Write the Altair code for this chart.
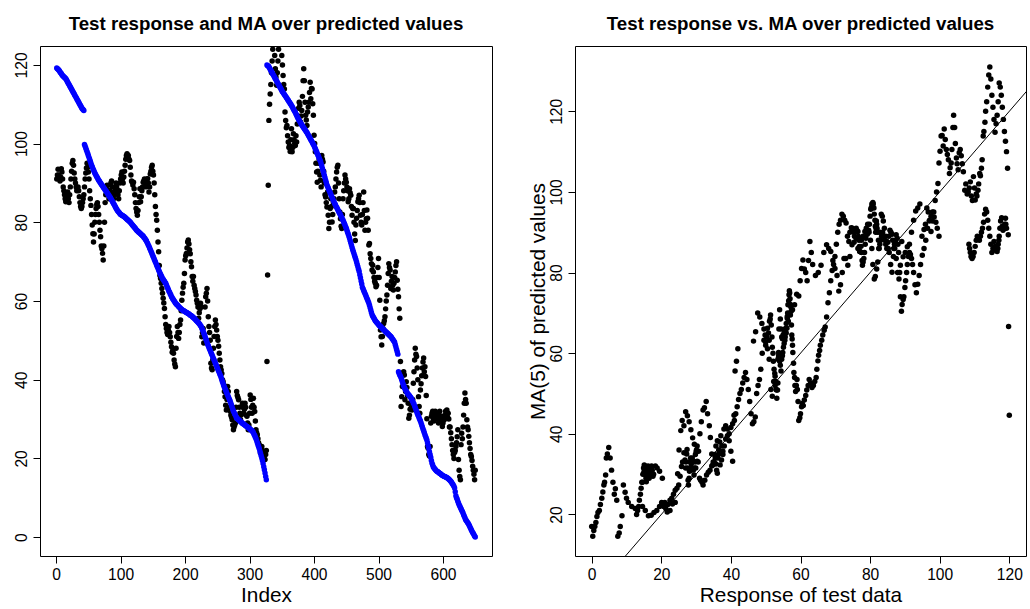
import altair as alt
import pandas as pd

# ---- test response (sorted within two blocks), read from the blue points ----
response_block1 = [
    119.2, 119.0, 118.9, 118.7, 118.5, 118.2, 118.0, 117.8, 117.5, 117.3,
    117.1, 117.0, 116.8, 116.7, 116.5, 116.2, 115.9, 115.6, 115.3, 115.0,
    114.7, 114.4, 114.1, 113.8, 113.5, 113.2, 112.9, 112.6, 112.3, 112.0,
    111.7, 111.4, 111.1, 110.8, 110.5, 110.2, 109.9, 109.6, 109.3, 109.0,
    108.8, 108.6, 108.4,
    99.8, 99.3, 98.9, 98.4, 97.9, 97.5, 97.0,
    96.5, 96.0, 95.5, 95.0, 94.5, 94.1, 93.7, 93.3, 92.9, 92.5,
    92.2, 91.9, 91.6, 91.3, 91.0, 90.7, 90.5, 90.2, 90.0, 89.7,
    89.5, 89.2, 89.0, 88.7, 88.5, 88.2, 88.0, 87.8, 87.5, 87.3,
    87.0, 86.8, 86.5, 86.3, 86.0, 85.7, 85.4, 85.1, 84.8, 84.5,
    84.2, 83.9, 83.6, 83.3, 83.0, 82.8, 82.6, 82.4, 82.2, 82.0,
    81.9, 81.8, 81.7, 81.6, 81.5, 81.4, 81.2, 81.1, 80.9, 80.8,
    80.6, 80.5, 80.3, 80.2, 80.0, 79.8, 79.6, 79.4, 79.2, 79.0,
    78.8, 78.6, 78.4, 78.2, 78.0, 77.8, 77.7, 77.5, 77.4, 77.2,
    77.1, 76.9, 76.8, 76.6, 76.5, 76.2, 76.0, 75.8, 75.5, 75.3,
    74.9, 74.6, 74.2, 73.9, 73.5, 73.1, 72.7, 72.3, 71.9, 71.5,
    71.1, 70.7, 70.3, 69.9, 69.5, 69.1, 68.7, 68.3, 67.9, 67.5,
    67.1, 66.8, 66.4, 66.1, 65.7, 65.5, 65.2, 65.0, 64.7, 64.5,
    64.1, 63.7, 63.3, 62.9, 62.5, 62.2, 61.8, 61.5, 61.1, 60.8,
    60.5, 60.3, 60.0, 59.8, 59.5, 59.3, 59.1, 59.0, 58.8, 58.6,
    58.4, 58.3, 58.1, 58.0, 57.8, 57.7, 57.6, 57.5, 57.4, 57.3,
    57.2, 57.1, 57.0, 56.9, 56.8, 56.7, 56.6, 56.4, 56.3, 56.2,
    56.1, 55.9, 55.8, 55.6, 55.5, 55.3, 55.1, 54.9, 54.8, 54.6,
    54.4, 54.2, 54.0, 53.7, 53.5, 53.1, 52.7, 52.3, 51.9, 51.5,
    51.0, 50.5, 50.0, 49.5, 49.0, 48.6, 48.2, 47.8, 47.4, 47.0,
    46.6, 46.2, 45.8, 45.4, 45.0, 44.6, 44.2, 43.8, 43.4, 43.0,
    42.6, 42.2, 41.8, 41.4, 41.0, 40.5, 40.0, 39.5, 39.0, 38.5,
    38.1, 37.7, 37.3, 36.9, 36.5, 36.1, 35.7, 35.3, 34.9, 34.5,
    34.0, 33.5, 33.0, 32.5, 32.0, 31.7, 31.3, 31.0, 30.6, 30.3,
    30.1, 30.0, 29.8, 29.7, 29.5, 29.4, 29.2, 29.1, 28.9, 28.8,
    28.7, 28.6, 28.4, 28.3, 28.2, 28.1, 28.0, 27.8, 27.7, 27.6,
    27.4, 27.3, 27.1, 27.0, 26.8, 26.5, 26.1, 25.8, 25.4, 25.0,
    24.5, 24.0, 23.5, 23.0, 22.5, 21.9, 21.3, 20.7, 20.1, 19.5,
    18.7, 17.9, 17.1, 16.3, 15.4, 14.6,
]
response_block2 = [
    120.0, 119.8, 119.7, 119.5,
    119.2, 118.9, 118.6, 118.3, 118.0, 117.7, 117.4, 117.1, 116.8, 116.5,
    116.2, 115.9, 115.6, 115.3, 115.0, 114.7, 114.4, 114.1, 113.8, 113.5,
    113.2, 113.0, 112.7, 112.5, 112.2, 112.0, 111.7, 111.5, 111.2, 111.0,
    110.7, 110.5, 110.2, 110.0, 109.7, 109.4, 109.1, 108.8, 108.5, 108.2,
    107.9, 107.5, 107.2, 106.8, 106.5, 106.2, 105.9, 105.6, 105.3, 105.0,
    104.8, 104.5, 104.3, 104.0, 103.8, 103.5, 103.3, 103.0, 102.8, 102.5,
    102.2, 101.9, 101.6, 101.3, 101.0, 100.7, 100.4, 100.1, 99.8, 99.5,
    99.1, 98.7, 98.3, 97.9, 97.5, 97.1, 96.7, 96.3, 95.9, 95.5,
    94.9, 94.3, 93.7, 93.1, 92.5, 91.9, 91.3, 90.7, 90.1, 89.5,
    89.1, 88.7, 88.3, 87.9, 87.5, 87.1, 86.7, 86.3, 85.9, 85.5,
    85.2, 84.8, 84.5, 84.1, 83.8, 83.5, 83.2, 82.8, 82.5, 82.2,
    81.9, 81.5, 81.2, 80.8, 80.5, 80.1, 79.7, 79.3, 78.9, 78.5,
    78.0, 77.5, 77.0, 76.5, 76.0, 75.4, 74.8, 74.2, 73.6, 73.0,
    72.5, 72.0, 71.5, 71.0, 70.5, 69.9, 69.3, 68.7, 68.1, 67.5,
    66.7, 65.9, 65.1, 64.3, 63.5, 63.1, 62.7, 62.3, 61.9, 61.5,
    61.1, 60.7, 60.3, 59.9, 59.5, 58.9, 58.3, 57.7, 57.1, 56.5,
    56.2, 55.9, 55.6, 55.3, 55.0, 54.8, 54.6, 54.4, 54.2, 54.0,
    53.8, 53.7, 53.5, 53.4, 53.2, 53.0, 52.9, 52.7, 52.6, 52.4,
    52.2, 52.1, 51.9, 51.8, 51.6, 51.4, 51.3, 51.1, 51.0, 50.8,
    50.5, 50.3, 50.0, 49.8, 49.5, 48.9, 48.3, 47.7, 47.1, 46.5,
    42.0, 41.6, 41.2, 40.9, 40.5, 40.0, 39.5, 39.0, 38.5, 38.0,
    37.7, 37.4, 37.1, 36.8, 36.5, 36.3, 36.1, 35.9, 35.7, 35.5,
    35.2, 34.8, 34.5, 34.1, 33.8, 33.3, 32.9, 32.4, 32.0, 31.5,
    31.1, 30.7, 30.3, 29.9, 29.5, 29.0, 28.5, 28.0, 27.5, 27.0,
    26.5, 26.0, 25.6, 25.1, 24.7, 24.0, 23.2, 22.5, 21.7, 21.0,
    20.3, 19.5, 18.8, 18.3, 17.8, 17.6, 17.4, 17.2, 17.0, 16.8,
    16.7, 16.6, 16.5, 16.3, 16.2, 16.1, 16.0, 15.8, 15.7, 15.6,
    15.5, 15.4, 15.4, 15.3, 15.2, 15.1, 15.0, 14.9, 14.7, 14.6,
    14.4, 14.2, 14.0, 13.7, 13.5, 13.2, 12.9, 12.5, 11.5, 10.5,
    10.0, 9.6, 9.1, 8.7, 8.2, 7.9, 7.5, 7.2, 6.8, 6.5,
    6.1, 5.7, 5.3, 4.9, 4.5, 4.2, 4.0, 3.7, 3.5, 3.2,
    2.9, 2.5, 2.2, 1.8, 1.5, 1.2, 0.9, 0.6, 0.3, 0.0,
]

# ---- MA(5) of predicted values, read from the black points ----
ma_block1 = [
    91, 92, 93.5, 92, 91, 90.5, 91.5, 93.6, 92.8, 91,
    89, 88, 87, 86, 85.2, 85.5, 86.5, 87.7, 86, 85,
    87, 89, 91, 93, 95, 95.7, 94.5, 92.5, 91, 90,
    89, 88, 88.5, 89, 88, 86.5, 85, 84, 83.5, 84,
    85, 86, 87, 89, 91, 92.5, 93.8, 95, 94, 92.8,
    91, 88, 86, 84.3, 82, 79.3, 77.1, 75, 77, 80,
    82, 83.5, 84.5, 85, 84, 82, 80, 78, 76.3, 74,
    73.3, 72.1, 70.4, 74, 80, 85, 87, 88.5, 89.4, 88,
    87, 86, 88, 89.5, 90, 90.5, 89, 87.5, 86, 87,
    88, 89, 90, 89, 88, 87, 86, 88, 90, 91,
    92, 92.8, 91, 90, 91.5, 93, 94.5, 96, 97, 97.4,
    96.5, 97, 96, 95.7, 94, 92, 90.5, 90.2, 89.5, 90.2,
    88.5, 87, 85, 83.5, 82.6, 81.8, 83, 85, 86.5, 88.5,
    85.2, 86.5, 88, 89, 90.2, 90.5, 91, 90.2, 89, 90,
    91, 91.1, 90, 87.7, 89, 92.3, 93, 94, 94.5, 93,
    92, 90, 87, 84, 82, 80.5, 78, 75, 72.5, 69,
    66.5, 65.7, 64.5, 63.2, 62, 60.7, 59.5, 58.1, 56, 54,
    53, 52, 51.5, 52.6, 53.5, 52, 50.9, 49.5, 48.4, 47,
    47.5, 46.7, 45, 44, 43.3, 48, 51, 53.5, 52, 50.5,
    52, 54, 55.2, 57.5, 60.2, 62, 63.5, 64.5, 67, 70.4,
    71.5, 72.1, 73.5, 75, 75.5, 74.5, 73, 72, 70, 68.7,
    66.2, 65, 66.2, 64, 63.2, 62.4, 61.5, 60.2, 59.4, 58.5,
    55.6, 57, 58, 59.4, 58.5, 50.9, 52, 53, 49.3, 51,
    58.5, 61.1, 62, 63.2, 60, 56, 53.5, 52, 50, 44.2,
    43, 42.5, 45, 48, 51, 53.5, 55.2, 54, 52.6, 51,
    50, 48.5, 46.7, 45, 43.3, 42.5, 41.6, 40, 39.5, 38.7,
    37, 35.7, 33.5, 32.3, 35, 38.3, 37, 34.9, 33, 32,
    31, 30.5, 29.8, 28.5, 27.3, 28, 28.5, 29, 33, 37,
    36, 35.5, 34.9, 33, 31.5, 29.8, 31, 33.2, 34, 33,
    31.5, 32.5, 34, 33, 31, 30.7, 29, 27.3, 28.5, 31.5,
    36.1, 35, 33, 31.5, 33.5, 35.3, 33, 31.9, 29.5, 27.3,
    26.5, 26, 25, 24, 23.5, 22.5, 21.4, 22, 23, 22,
    21, 20.5, 19.8, 19.7, 21, 22,
]
ma_block2 = [
    44.6, 66.6, 89.4, 105.9,
    110, 112.6, 115, 118, 121, 124, 126, 127, 122.4, 119,
    116.9, 114.8, 118, 121, 124, 128, 131, 129, 126, 122.4,
    120, 117.3, 115, 113.9, 108, 105.9, 104, 104.6, 102, 100.4,
    99, 99.5, 98, 101, 103.8, 97.9, 99, 102.5, 101, 100,
    99.5, 102, 100.4, 105, 107, 109, 110.5, 109.7, 105.5, 107,
    108.4, 112, 116, 119, 116, 110.5, 107.2, 106, 104.6, 108,
    109.3, 110.5, 113, 115.6, 111.4, 114, 113.9, 110.1, 107.2, 102.1,
    100, 97.9, 95, 92.8, 90.2, 93, 95, 96, 92, 90.7,
    89, 97, 96, 95.3, 93, 90, 87, 86.4, 85, 83.9,
    87.7, 81.8, 78.4, 80, 83.5, 86, 84, 80.1, 82, 85,
    86, 87.7, 89, 91, 92.8, 94, 94.5, 90, 86, 82.6,
    80.9, 79, 78.4, 82, 86, 88, 90, 92, 91, 90.2,
    89, 88, 85.2, 86, 88.5, 87.5, 86.9, 84, 81.8, 83.5,
    83.5, 80, 77, 75.4, 79.3, 81, 83, 85.2, 86, 86.9,
    85, 81.8, 80, 79.3, 82, 85, 87.7, 83, 78, 80,
    80.9, 83.1, 81, 78, 74.2, 74.6, 72, 70.8, 69.5, 67.9,
    69.1, 67.4, 66, 65, 64.5, 63.6, 64, 66, 68.5, 70.8,
    66, 60.2, 52.6, 50.9, 48.8, 51, 53, 54.3, 55, 56,
    58, 60, 61.5, 64, 67, 69.5, 68.5, 67.9, 63.2, 65,
    66.2, 64, 62.8, 64.5, 66, 67.4, 69, 70, 65.3, 63,
    61.1, 58, 55.6, 44.6, 33.2, 35.7, 38.3, 41.2, 42, 41.2,
    34.9, 37, 39.5, 38, 36, 34, 30.2, 31, 32.5, 34,
    33, 32.3, 35, 39.1, 42, 45, 48, 46.5, 45.9, 43,
    40, 35.7, 33.2, 31.5, 37.4, 39, 41, 43, 44.5, 45.5,
    42, 43.3, 40.8, 36, 30.1, 23, 22.6, 21, 20.6, 23,
    29, 30.7, 31.5, 32, 30, 29.5, 31, 32, 31, 30.7,
    31.5, 30, 29, 31, 32, 30, 29.5, 30.7, 28.1, 29,
    30, 29.8, 31, 32, 31, 32.3, 30.5, 31.5, 30, 28,
    28, 26.5, 25, 23.5, 22, 21, 20, 21.5, 22, 23,
    24, 25.5, 27.3, 19.7, 17, 15.4, 14.6, 23.5, 26.4, 25,
    28, 31, 34, 36.6, 35, 34, 29.8, 28, 27.3, 25.6,
    24, 22.5, 21, 20.5, 19.5, 18, 17, 16, 14.6, 17,
]

# reference line y = x (abline(0, 1)) endpoints
abline_ends = [-10, 150]

left_x_ticks = [0, 100, 200, 300, 400, 500, 600]
left_y_ticks = [0, 20, 40, 60, 80, 100, 120]
right_x_ticks = [0, 20, 40, 60, 80, 100, 120]
right_y_ticks = [20, 40, 60, 80, 100, 120]

response = response_block1 + response_block2
ma5 = ma_block1 + ma_block2
df = pd.DataFrame({
    "Index": list(range(1, len(response) + 1)),
    "Response": response,
    "MA": ma5,
})
line_df = pd.DataFrame({"Response": abline_ends, "MA": abline_ends})

FONT = "Liberation Sans"
LAB = 15.6
TTL = 20.8
PT = 30


def x_axis(values, title):
    return alt.Axis(values=values, title=title, labelFont=FONT, labelFontSize=LAB,
                    labelColor="black", tickColor="black", tickSize=7, tickWidth=1,
                    labelPadding=16, labelBaseline="alphabetic", labelFlush=False,
                    labelOverlap=False, domain=False, grid=False,
                    titleFont=FONT, titleFontSize=TTL, titleFontWeight="normal",
                    titleColor="black", titleBaseline="alphabetic", titleY=45)


def y_axis(values, title, h):
    kw = dict(values=values, title=title, labelFont=FONT, labelFontSize=LAB,
              labelColor="black", tickColor="black", tickSize=7, tickWidth=1,
              labelPadding=7, labelAngle=270, labelAlign="center",
              labelBaseline="alphabetic", labelFlush=False, labelOverlap=False,
              domain=False, grid=False, titleFont=FONT, titleFontSize=TTL,
              titleFontWeight="normal", titleColor="black")
    if title:
        kw.update(titleAngle=270, titleAlign="center", titleBaseline="alphabetic",
                  titleX=-31, titleY=h / 2)
    return alt.Axis(**kw)


W, H = 452, 510

# ---------- left panel ----------
lx_scale = alt.Scale(domain=[-25, 676], nice=False, zero=False)
ly_scale = alt.Scale(domain=[-4.8, 124.8], nice=False, zero=False)

left_black = alt.Chart(df).mark_circle(color="black", size=PT, opacity=1, clip=True).encode(
    x=alt.X("Index:Q", scale=lx_scale, axis=x_axis(left_x_ticks, "Index")),
    y=alt.Y("MA:Q", scale=ly_scale, axis=y_axis(left_y_ticks, "", H)),
)
left_blue = alt.Chart(df).mark_circle(color="#0000FF", size=PT, opacity=1, clip=True).encode(
    x=alt.X("Index:Q", scale=lx_scale, axis=x_axis(left_x_ticks, "Index")),
    y=alt.Y("Response:Q", scale=ly_scale, axis=y_axis(left_y_ticks, "", H)),
)
left = alt.layer(left_black, left_blue).properties(
    width=W, height=H,
    title=alt.TitleParams(text="Test response and MA over predicted values", font=FONT,
                          fontSize=18.7, fontWeight="bold", color="black",
                          anchor="middle", frame="group", baseline="alphabetic", offset=-3),
)

# ---------- right panel ----------
rx_scale = alt.Scale(domain=[-4.8, 124.8], nice=False, zero=False)
ry_scale = alt.Scale(domain=[9.7, 136.2], nice=False, zero=False)
rx = alt.X("Response:Q", scale=rx_scale, axis=x_axis(right_x_ticks, "Response of test data"))
ry = alt.Y("MA:Q", scale=ry_scale, axis=y_axis(right_y_ticks, "MA(5) of predicted values", H))

right_pts = alt.Chart(df).mark_circle(color="black", size=PT, opacity=1, clip=True).encode(x=rx, y=ry)
right_line = alt.Chart(line_df).mark_line(color="black", strokeWidth=1, clip=True).encode(x=rx, y=ry)
right = alt.layer(right_pts, right_line).properties(
    width=451, height=H,
    title=alt.TitleParams(text="Test response vs. MA over predicted values", font=FONT,
                          fontSize=18.7, fontWeight="bold", color="black",
                          anchor="middle", frame="group", baseline="alphabetic", offset=-3),
)

chart = alt.hconcat(left, right, spacing=33).properties(
    padding={"left": 13, "top": 14, "right": 0, "bottom": 0},
    background="white",
).configure_view(stroke="black", strokeWidth=1)

chart.save("out.html", embed_options={"renderer": "svg", "actions": False})
